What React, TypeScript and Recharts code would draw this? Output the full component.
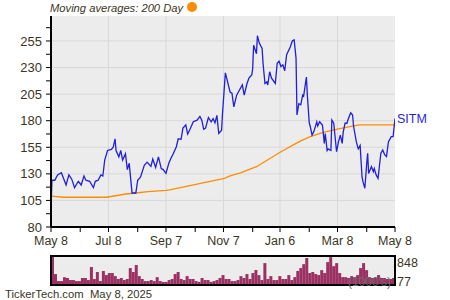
import { Bar, BarChart, CartesianGrid, LabelList, Line, LineChart, ReferenceLine, XAxis, YAxis } from 'recharts';

const FONT = '"Liberation Sans", Arial, sans-serif';
const TEXT = '#3b3524';
const BLUE = '#1f1fdc';
const ORANGE = '#ff8c00';

// days since May 8 2024
const monthTicks = [0, 31, 61, 92, 122, 153, 183, 214, 243, 274, 304, 335, 365];
const monthLabels = ['May 8', '', 'Jul 8', '', 'Sep 7', '', 'Nov 7', '', 'Jan 6', '', 'Mar 8', '', 'May 8'];
const gridDays = [61, 122, 183, 243, 304];

const priceTicks = [80, 92.5, 105, 117.5, 130, 142.5, 155, 167.5, 180, 192.5, 205, 217.5, 230, 242.5, 255, 267.5];
const priceGrid = [105, 130, 155, 180, 205, 230, 255];

const days = [
  0, 1, 4, 7, 11, 16, 19, 22, 25, 29,
  32, 35, 37, 41, 45, 47, 50, 53, 55, 57,
  60, 64, 66, 68, 69, 72, 74, 76, 79, 81,
  83, 85, 86, 90, 92, 95, 99, 102, 106, 108,
  111, 114, 117, 119, 122, 125, 128, 129, 133, 135,
  138, 140, 143, 145, 147, 151, 155, 158, 160, 162,
  164, 167, 170, 172, 174, 176, 178, 181, 182, 185,
  187, 190, 192, 194, 197, 201, 203, 205, 208, 210,
  213, 214, 215, 218, 219, 221, 224, 225, 227, 229,
  230, 232, 234, 238, 240, 242, 244, 246, 248, 250,
  254, 256, 258, 260, 261, 263, 265, 267, 268, 271,
  272, 274, 275, 277, 279, 282, 283, 285, 288, 290,
  291, 293, 294, 297, 298, 300, 303, 305, 307, 309,
  310, 312, 314, 315, 318, 320, 321, 324, 326, 328,
  330, 331, 333, 335, 336, 337, 340, 342, 343, 345,
  347, 348, 350, 352, 354, 356, 358, 361, 363, 365,
];

const prices = [
  96, 124, 124, 129, 131, 119.5, 129, 125, 117, 123,
  119.5, 128, 124, 123, 117, 123, 124, 129, 128, 143,
  152, 153, 155, 163, 152, 146, 152, 143, 149, 134,
  140, 121, 112, 112, 124, 127, 138, 141, 137, 144,
  136, 146, 135, 134, 130.5, 140, 146, 147.5, 155.5, 163,
  162.5, 173, 176, 167.5, 171, 179, 180.5, 184, 180.5, 172,
  173, 183, 179, 182, 178, 185, 168, 171, 187, 225,
  218, 207, 206, 193, 204, 210.5, 213.6, 204, 215, 220,
  223, 229, 251, 243, 260, 253, 248, 234, 215, 216.5,
  213.6, 226, 220, 215, 234, 236, 231, 232.6, 227, 242,
  249.6, 255, 256, 238.7, 185.4, 196, 195, 204, 203, 221,
  204, 178, 175, 166.5, 170, 179, 175, 179, 176, 158.7,
  168, 152, 153.5, 152, 180.7, 177.6, 150.8, 160, 166.5, 158.7,
  169, 177.6, 177.6, 180.7, 187.5, 185.4, 175, 160, 153.5, 156.6,
  127.3, 122.6, 116.4, 140, 149.4, 130.4, 136.8, 132, 135, 129,
  125.8, 133.6, 149.4, 152.5, 148, 146.3, 160, 165, 165, 182,
];

const maDays = [0, 13, 59, 78, 90, 103, 122, 126, 184, 190, 201, 218, 244, 260, 265, 275, 289, 304, 317, 327, 365];
const maValues = [109, 108, 108, 110.8, 112, 113.2, 114.5, 115, 125.8, 128, 131, 136.7, 150.8, 158.7, 161, 165, 169, 172, 174.4, 176, 176];

// volume, thousands of shares
const volumes = [
  848, 320, 115, 115, 230, 205, 145, 145, 115, 115, 205, 205, 145, 525, 175, 380, 115, 410, 290, 350,
  350, 260, 175, 205, 145, 175, 495, 380, 585, 260, 175, 115, 115, 145, 115, 230, 115, 90, 90, 145,
  175, 320, 380, 175, 145, 260, 175, 175, 115, 90, 205, 145, 145, 90, 115, 145, 205, 290, 175, 175,
  115, 115, 145, 260, 205, 320, 175, 350, 435, 290, 145, 640, 175, 260, 145, 145, 260, 175, 175, 290,
  145, 230, 410, 495, 610, 790, 350, 380, 320, 290, 435, 350, 670, 815, 550, 640, 350, 230, 230, 205,
  260, 230, 290, 495, 640, 435, 230, 205, 205, 290, 205, 205, 175, 175, 205,
];

const priceData = days.map((d, i) => ({ d, p: prices[i] }));
const maData = maDays.map((d, i) => ({ d, m: maValues[i] }));
const volData = volumes.map((v, i) => ({ i, v }));

const last = prices.length - 1;

const sitmLabel = (props: any) => {
  if (props.index !== last) return null;
  return (
    <text x={props.x + 2} y={props.y + 4} fill={BLUE} fontSize={12.5} fontFamily={FONT}>
      SITM
    </text>
  );
};

const txt = (extra: any) => ({
  position: 'absolute' as const,
  fontFamily: FONT,
  fontSize: 12.5,
  lineHeight: '14px',
  color: TEXT,
  whiteSpace: 'nowrap' as const,
  ...extra,
});

export default function App() {
  return (
    <div style={{ position: 'absolute', left: 0, top: 0, width: 450, height: 300, background: '#fff', overflow: 'hidden' }}>
      <div style={txt({ left: 50, top: 1, fontStyle: 'italic', fontSize: 11.2 })}>Moving averages: 200 Day</div>
      <div style={{ position: 'absolute', left: 187, top: 2, width: 10, height: 10, borderRadius: 5, background: ORANGE }} />

      <LineChart
        width={450}
        height={260}
        margin={{ top: 16, right: 55, bottom: 15, left: 0 }}
        style={{ position: 'absolute', left: 0, top: 0 }}
      >
        <CartesianGrid fill="#ececec" horizontal={false} vertical={false} />
        {priceGrid.map(v => (
          <ReferenceLine key={'h' + v} y={v} stroke="#d8d8d8" strokeWidth={1} />
        ))}
        {gridDays.map(d => (
          <ReferenceLine key={'v' + d} x={d} stroke="#d8d8d8" strokeWidth={1} />
        ))}
        <XAxis
          type="number"
          dataKey="d"
          domain={[0, 365]}
          ticks={monthTicks}
          interval={0}
          height={18}
          tickSize={5}
          tickMargin={4}
          tickFormatter={v => monthLabels[monthTicks.indexOf(v)] ?? ''}
          tick={{ fill: TEXT, fontSize: 12.5, fontFamily: FONT }}
          axisLine={{ stroke: '#000', strokeWidth: 2 }}
          tickLine={{ stroke: '#000' }}
          allowDataOverflow
        />
        <YAxis
          type="number"
          domain={[80, 278.5]}
          ticks={priceTicks}
          interval={0}
          width={51}
          tickSize={5}
          tickMargin={4}
          tickFormatter={v => ((v - 80) % 25 === 0 ? String(v) : '')}
          tick={{ fill: TEXT, fontSize: 13, fontFamily: FONT }}
          axisLine={{ stroke: '#000', strokeWidth: 2 }}
          tickLine={{ stroke: '#000' }}
          allowDataOverflow
        />
        <Line
          data={maData}
          dataKey="m"
          stroke={ORANGE}
          strokeWidth={1.3}
          dot={false}
          isAnimationActive={false}
        />
        <Line
          data={priceData}
          dataKey="p"
          stroke={BLUE}
          strokeWidth={1.3}
          dot={false}
          isAnimationActive={false}
        >
          <LabelList dataKey="p" content={sitmLabel} />
        </Line>
      </LineChart>

      <BarChart
        width={450}
        height={40}
        data={volData}
        margin={{ top: 6, right: 55, bottom: 5, left: 51 }}
        barCategoryGap={0}
        style={{ position: 'absolute', left: 0, top: 250 }}
      >
        <CartesianGrid fill="#ececec" horizontal={false} vertical={false} />
        <XAxis dataKey="i" hide />
        <YAxis domain={[0, 848]} hide allowDataOverflow />
        <Bar dataKey="v" fill="#9b3062" isAnimationActive={false} />
      </BarChart>
      <div
        style={{
          position: 'absolute',
          left: 50,
          top: 255,
          width: 346,
          height: 31,
          border: '2px solid #000',
          boxSizing: 'border-box',
        }}
      />
      <div style={txt({ left: 348, top: 275, color: '#6a6a6a', fontSize: 12 })}>(1000's)</div>
      <div style={txt({ left: 397, top: 256 })}>848</div>
      <div style={txt({ left: 397, top: 275 })}>77</div>
      <div style={txt({ left: 5, top: 287, fontSize: 11.3 })}>TickerTech.com&nbsp;&nbsp;May 8, 2025</div>
    </div>
  );
}
